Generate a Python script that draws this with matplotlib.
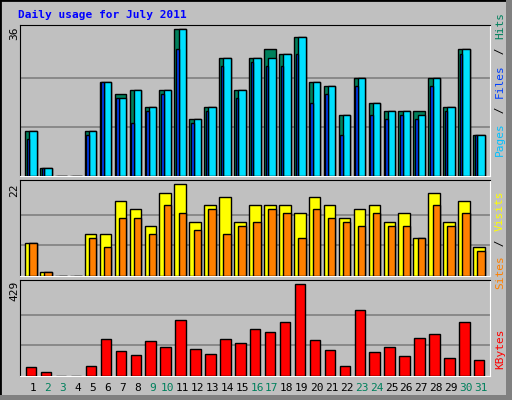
import matplotlib.pyplot as plt
import numpy as np
from matplotlib.patches import Rectangle

days = np.arange(1, 32)
hits = [11, 2, 0, 0, 11, 23, 20, 21, 17, 21, 36, 14, 17, 29, 21, 29,
        31, 30, 34, 23, 22, 15, 24, 18, 16, 16, 16, 24, 17, 31, 10]
pages = [11, 2, 0, 0, 11, 23, 19, 21, 17, 21, 36, 14, 17, 29, 21, 29,
         29, 30, 34, 23, 22, 15, 24, 18, 16, 16, 15, 24, 17, 31, 10]
files = [9, 2, 0, 0, 10, 23, 19, 13, 16, 20, 31, 13, 16, 27, 19, 28,
         27, 27, 30, 18, 20, 10, 22, 15, 14, 15, 14, 22, 16, 30, 10]
sites = [8, 1, 0, 0, 10, 10, 18, 16, 12, 20, 22, 13, 17, 19, 13, 17,
         17, 17, 15, 19, 17, 14, 16, 17, 13, 15, 9, 20, 13, 18, 7]
visits = [8, 1, 0, 0, 9, 7, 14, 14, 10, 17, 15, 11, 16, 10, 12, 13,
          16, 15, 9, 16, 14, 13, 12, 15, 12, 12, 9, 17, 12, 15, 6]
kbytes = [44, 20, 0, 0, 49, 175, 119, 100, 166, 138, 264, 128, 105, 175, 156, 218,
          208, 255, 429, 171, 124, 49, 311, 114, 138, 95, 180, 199, 86, 255, 77]
weekend = [2, 3, 9, 10, 16, 17, 23, 24, 30, 31]

BG = '#C0C0C0'
W, H = 512, 400
fig = plt.figure(figsize=(5.12, 4.0), dpi=100, facecolor=BG)
mono = 'DejaVu Sans Mono'

# outer bevel
fig.patches.append(Rectangle((0, 0), 1, 1, transform=fig.transFigure,
                             fill=False, edgecolor='black', lw=2))
fig.patches.append(Rectangle((506 / W, 0), 6 / W, 1, transform=fig.transFigure,
                             color='#808080', lw=0))
fig.patches.append(Rectangle((0, 0), 1, 5 / H, transform=fig.transFigure,
                             color='#808080', lw=0))


def panel(y0, y1):
    ax = fig.add_axes([20 / W, 1 - y1 / H, 470 / W, (y1 - y0) / H])
    ax.set_facecolor(BG)
    ax.set_xlim(0.13, 31.6)
    ax.set_xticks([])
    ax.set_yticks([])
    for s in ax.spines.values():
        s.set_color('black')
    ax.spines['right'].set_color('white')
    ax.spines['bottom'].set_color('white')
    return ax


kw = dict(align='edge', edgecolor='black', linewidth=1, zorder=3)

ax1 = panel(25, 176)
ax1.set_ylim(0, 37)
for g in (12, 24):
    ax1.axhline(g, color='#808080', lw=1.2, zorder=1)
ax1.bar(days - 0.53, hits, width=0.78, color='#00805C', **kw)
ax1.bar(days - 0.25, pages, width=0.5, color='#00E0FF', **kw)
ax1.bar(days - 0.42, files, width=0.17, color='#0040FF', **kw)

ax2 = panel(180, 276)
ax2.set_ylim(0, 23)
for g in (22 / 3, 44 / 3):
    ax2.axhline(g, color='#808080', lw=1.2, zorder=1)
ax2.bar(days - 0.53, sites, width=0.78, color='#FFFF00', **kw)
ax2.bar(days - 0.25, visits, width=0.5, color='#FF8000', **kw)

ax3 = panel(280, 376)
ax3.set_ylim(0, 450)
for g in (143, 286):
    ax3.axhline(g, color='#808080', lw=1.2, zorder=1)
ax3.bar(days - 0.47, kbytes, width=0.7, color='#FF0000', **kw)
for d in days:
    ax3.text(d, -0.13, str(d), transform=ax3.get_xaxis_transform(), ha='center',
             va='center', fontsize=8, family=mono,
             color='#00805C' if d in weekend else 'black')

fig.text(18 / W, 1 - 15 / H, 'Daily usage for July 2011', color='#0000FF',
         fontsize=8, family=mono, weight='bold', va='center')

for y, txt in [(33, '36'), (190, '22'), (291, '429')]:
    fig.text(14 / W, 1 - y / H, txt, rotation=90, fontsize=8, family=mono,
             ha='center', va='center')


def side_label(ycenter, parts):
    total = sum(len(p) for p, _ in parts)
    ch = 7.3
    y = ycenter + total * ch / 2
    for p, c in parts:
        fig.text(500 / W, 1 - y / H, p, rotation=90, fontsize=8, family=mono,
                 color=c, ha='center', va='bottom')
        y -= len(p) * ch


side_label(83, [('Pages', '#00C0FF'), (' / ', 'black'), ('Files', '#0040FF'),
                (' / ', 'black'), ('Hits', '#00805C')])
side_label(238, [('Sites', '#FF8000'), (' / ', 'black'), ('Visits', '#FFFF00')])
side_label(347, [('KBytes', '#FF0000')])

fig.savefig('out.png', dpi=100, facecolor=BG)
